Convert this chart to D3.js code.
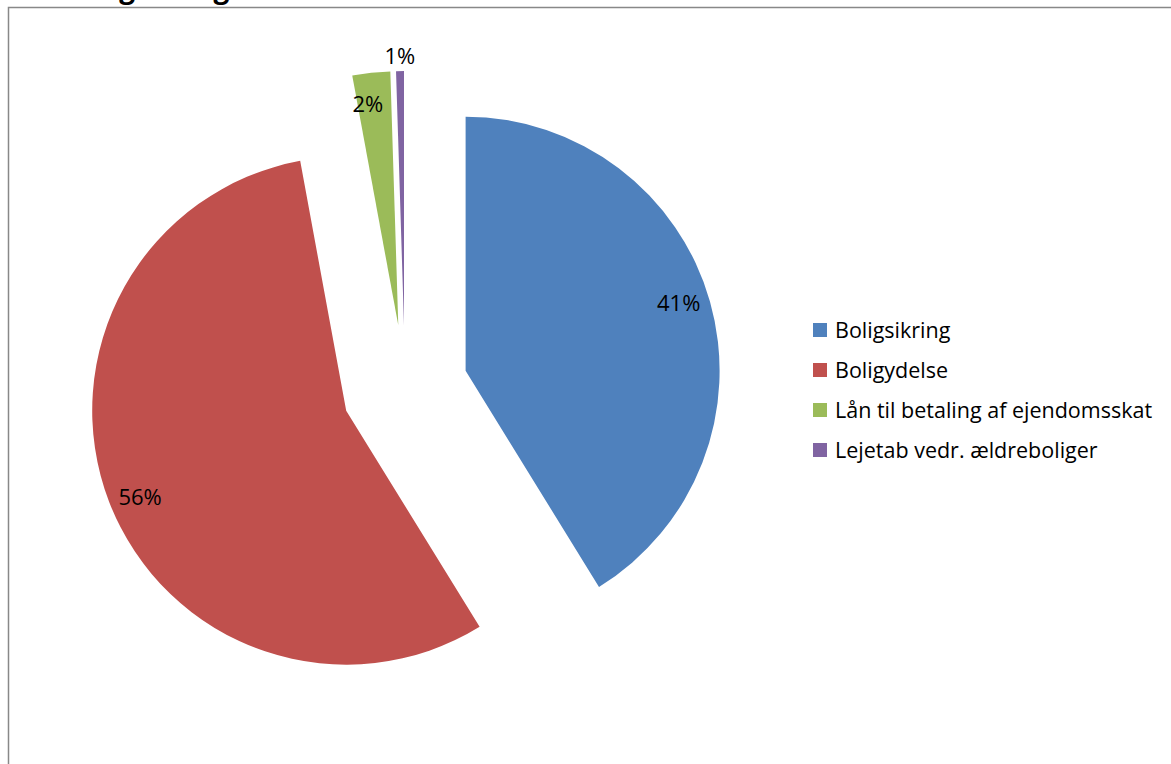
<!DOCTYPE html>
<html>
<head>
<meta charset="utf-8">
<script src="https://cdn.jsdelivr.net/npm/d3@7"></script>
<style>
  body { margin: 0; background: #fff; }
  text { font-family: "Open Sans", "Noto Sans", sans-serif; }
</style>
</head>
<body>
<svg id="chart" width="1171" height="764"></svg>
<script>
// data
var categories = ["Boligsikring", "Boligydelse", "Lån til betaling af ejendomsskat", "Lejetab vedr. ældreboliger"];
var shares = [41.2, 55.9, 2.4, 0.5];
var colors = ["#4f81bd", "#c0504d", "#9bbb59", "#8064a2"];
var title = "Fordeling af udgifterne";

var svg = d3.select("#chart"),
    cx = 405, cy = 388,
    radius = 254,
    explode = 63;

// title, mostly clipped off the top
svg.append("text")
    .attr("x", 4)
    .attr("y", -2.5)
    .attr("font-size", 28)
    .attr("font-weight", "bold")
    .attr("fill", "#000")
    .text(title);

// chart area border (only top and left visible)
svg.append("path")
    .attr("d", "M8.5,764 V7.5 H1171")
    .attr("fill", "none")
    .attr("stroke", "#888")
    .attr("stroke-width", 1.5);

var pie = d3.pie().sort(null).value(function(d) { return d; });
var arcs = pie(shares);

var arc = d3.arc().innerRadius(0).outerRadius(radius);

function offset(d, k, turn) {
  var a = (d.startAngle + d.endAngle) / 2 + (turn || 0);
  return [k * Math.sin(a), -k * Math.cos(a)];
}

var g = svg.append("g").attr("transform", "translate(" + cx + "," + cy + ")");

var slice = g.selectAll(".slice")
    .data(arcs)
    .enter().append("g")
      .attr("class", "slice")
      .attr("transform", function(d) {
        var o = offset(d, explode);
        return "translate(" + o[0] + "," + o[1] + ")";
      });

slice.append("path")
    .attr("d", arc)
    .attr("fill", function(d, i) { return colors[i]; });

slice.append("text")
    .attr("text-anchor", "middle")
    .attr("dy", "0.35em")
    .attr("font-size", 22)
    .attr("fill", "#000")
    .attr("transform", function(d, i) {
      var k = (d.value < 1 ? 1.06 : 0.88) * radius;
      var o = offset(d, k, d.value < 1 ? 0 : -0.03);
      return "translate(" + o[0] + "," + o[1] + ")";
    })
    .text(function(d) { return Math.round(d.value) + "%"; });

// legend
var legend = svg.append("g").attr("transform", "translate(813,330)");

var item = legend.selectAll(".item")
    .data(categories)
    .enter().append("g")
      .attr("class", "item")
      .attr("transform", function(d, i) { return "translate(0," + i * 40 + ")"; });

item.append("rect")
    .attr("x", 0)
    .attr("y", -7)
    .attr("width", 14)
    .attr("height", 14)
    .attr("fill", function(d, i) { return colors[i]; });

item.append("text")
    .attr("x", 22)
    .attr("dy", "0.35em")
    .attr("font-size", 21.5)
    .attr("fill", "#000")
    .text(function(d) { return d; });
</script>
</body>
</html>
